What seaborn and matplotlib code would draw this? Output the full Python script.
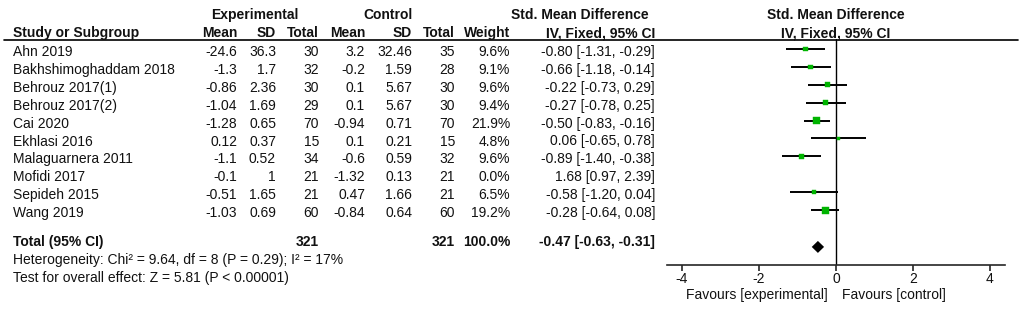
import matplotlib
matplotlib.use("Agg")
import matplotlib.pyplot as plt
import numpy as np
import pandas as pd
import seaborn as sns

# 研究数据
studies = ["Ahn 2019", "Bakhshimoghaddam 2018", "Behrouz 2017(1)", "Behrouz 2017(2)", "Cai 2020",
           "Ekhlasi 2016", "Malaguarnera 2011", "Mofidi 2017", "Sepideh 2015", "Wang 2019"]
exp_mean = [-24.6, -1.3, -0.86, -1.04, -1.28, 0.12, -1.1, -0.1, -0.51, -1.03]
exp_sd = [36.3, 1.7, 2.36, 1.69, 0.65, 0.37, 0.52, 1, 1.65, 0.69]
exp_n = [30, 32, 30, 29, 70, 15, 34, 21, 21, 60]
ctl_mean = [3.2, -0.2, 0.1, 0.1, -0.94, 0.1, -0.6, -1.32, 0.47, -0.84]
ctl_sd = [32.46, 1.59, 5.67, 5.67, 0.71, 0.21, 0.59, 0.13, 1.66, 0.64]
ctl_n = [35, 28, 30, 30, 70, 15, 32, 21, 21, 60]
weight = [9.6, 9.1, 9.6, 9.4, 21.9, 4.8, 9.6, 0.0, 6.5, 19.2]
smd = [-0.80, -0.66, -0.22, -0.27, -0.50, 0.06, -0.89, 1.68, -0.58, -0.28]
ci_lo = [-1.31, -1.18, -0.73, -0.78, -0.83, -0.65, -1.40, 0.97, -1.20, -0.64]
ci_hi = [-0.29, -0.14, 0.29, 0.25, -0.16, 0.78, -0.38, 2.39, 0.04, 0.08]

# 合并结果
total_exp_n = 321
total_ctl_n = 321
total_weight = 100.0
total_smd = -0.47
total_lo = -0.63
total_hi = -0.31
heterogeneity = "Heterogeneity: Chi\u00b2 = 9.64, df = 8 (P = 0.29); I\u00b2 = 17%"
overall_test = "Test for overall effect: Z = 5.81 (P < 0.00001)"
x_ticks = [-4, -2, 0, 2, 4]

df = pd.DataFrame({"study": studies, "smd": smd, "lo": ci_lo, "hi": ci_hi, "weight": weight})
df["row"] = np.arange(len(df))

sns.set_style("white")
plt.rcParams["font.family"] = ["Liberation Sans", "DejaVu Sans"]
fs = 10
txt = "#111111"
green = "#00b400"

fig = plt.figure(figsize=(10.21, 3.13), dpi=100)

# 表格区域（像素坐标）
tab = fig.add_axes([0, 0, 1, 1])
tab.set_xlim(0, 1021)
tab.set_ylim(313, 0)
tab.axis("off")

def row_y(i):
    return 52 + 17.9 * i

# 表头
tab.text(255, 15, "Experimental", ha="center", va="center", fontsize=fs, fontweight="bold", color=txt)
tab.text(388, 15, "Control", ha="center", va="center", fontsize=fs, fontweight="bold", color=txt)
tab.text(580, 15, "Std. Mean Difference", ha="center", va="center", fontsize=fs, fontweight="bold", color=txt)
tab.text(836, 15, "Std. Mean Difference", ha="center", va="center", fontsize=fs, fontweight="bold", color=txt)
tab.text(13, 33, "Study or Subgroup", ha="left", va="center", fontsize=fs, fontweight="bold", color=txt)
cols = [237, 276, 319, 365, 412, 455, 510]
heads = ["Mean", "SD", "Total", "Mean", "SD", "Total", "Weight"]
for cx, h in zip(cols, heads):
    tab.text(cx, 33, h, ha="right", va="center", fontsize=fs, fontweight="bold", color=txt)
tab.text(655, 33, "IV, Fixed, 95% CI", ha="right", va="center", fontsize=fs, fontweight="bold", color=txt)
tab.text(836, 33, "IV, Fixed, 95% CI", ha="center", va="center", fontsize=fs, fontweight="bold", color=txt)
tab.plot([4, 1018], [40, 40], color="black", lw=1.2)

# 各研究行
for i in range(len(studies)):
    y = row_y(i)
    tab.text(13, y, studies[i], ha="left", va="center", fontsize=fs, color=txt)
    vals = [f"{exp_mean[i]:g}", f"{exp_sd[i]:g}", f"{exp_n[i]}",
            f"{ctl_mean[i]:g}", f"{ctl_sd[i]:g}", f"{ctl_n[i]}", f"{weight[i]:.1f}%"]
    for cx, v in zip(cols, vals):
        tab.text(cx, y, v, ha="right", va="center", fontsize=fs, color=txt)
    tab.text(655, y, f"{smd[i]:.2f} [{ci_lo[i]:.2f}, {ci_hi[i]:.2f}]", ha="right", va="center",
             fontsize=fs, color=txt)

# 合计行
tab.text(13, 242, "Total (95% CI)", ha="left", va="center", fontsize=fs, fontweight="bold", color=txt)
tab.text(319, 242, f"{total_exp_n}", ha="right", va="center", fontsize=fs, fontweight="bold", color=txt)
tab.text(455, 242, f"{total_ctl_n}", ha="right", va="center", fontsize=fs, fontweight="bold", color=txt)
tab.text(510, 242, f"{total_weight:.1f}%", ha="right", va="center", fontsize=fs, fontweight="bold", color=txt)
tab.text(655, 242, f"{total_smd:.2f} [{total_lo:.2f}, {total_hi:.2f}]", ha="right", va="center",
         fontsize=fs, fontweight="bold", color=txt)
tab.text(13, 260, heterogeneity, ha="left", va="center", fontsize=fs, color=txt)
tab.text(13, 278, overall_test, ha="left", va="center", fontsize=fs, color=txt)
tab.text(828, 295, "Favours [experimental]", ha="right", va="center", fontsize=fs, color=txt)
tab.text(842, 295, "Favours [control]", ha="left", va="center", fontsize=fs, color=txt)

# 森林图区域
ax = fig.add_axes([667 / 1021, 1 - 265 / 313, (1005 - 667) / 1021, (265 - 39) / 313])
ax.patch.set_alpha(0)
ax.set_xlim(-4.39, 4.39)
ax.set_ylim(12.07, -0.56)

shown = df[df["weight"] > 0]
ax.hlines(shown["row"], shown["lo"], shown["hi"], color="black", lw=1.4)
sns.scatterplot(data=shown, x="smd", y="row", size="weight", sizes=(6, 28), size_norm=(4.8, 21.9),
                marker="s", color=green, edgecolor=green, linewidth=0.3, legend=False, ax=ax, zorder=3)
ax.axvline(0, color="black", lw=1.0, zorder=1)

# 合并效应菱形
dy = 11.06
h = 0.335
ax.fill([total_lo, total_smd, total_hi, total_smd], [dy, dy - h, dy, dy + h], color="black", lw=0)

for s in ["top", "right", "left"]:
    ax.spines[s].set_visible(False)
ax.spines["bottom"].set_linewidth(1.2)
ax.set_xticks(x_ticks)
ax.set_xticklabels([f"{t}" for t in x_ticks], fontsize=fs, color=txt)
ax.tick_params(axis="x", direction="out", length=4, width=1.2, pad=1, bottom=True)
ax.set_yticks([])
ax.set_xlabel("")
ax.set_ylabel("")

fig.savefig("out.png", dpi=100)
